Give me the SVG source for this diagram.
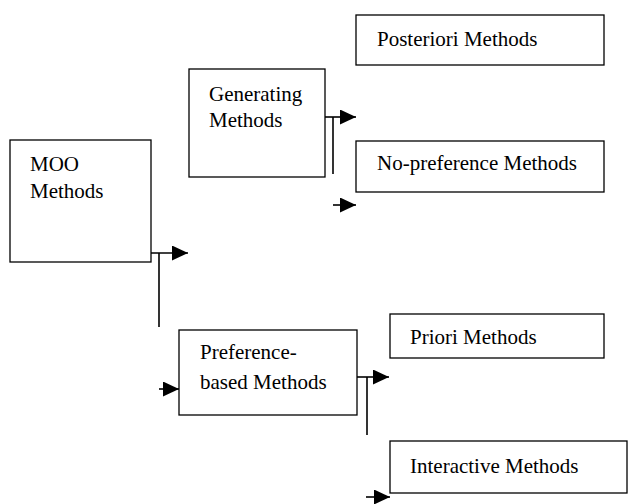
<svg xmlns="http://www.w3.org/2000/svg" width="628" height="504" viewBox="0 0 628 504">
<style>
.box{fill:#fff;stroke:#000;stroke-width:1.3}
.lbl{font-family:"Liberation Serif","Times New Roman",serif;font-size:21px;fill:#000}
.ln{stroke:#000;stroke-width:1.6;fill:none}
</style>
<defs>
<marker id="ah" markerUnits="userSpaceOnUse" markerWidth="16" markerHeight="15" refX="16" refY="7.5" orient="auto">
<path d="M0,0 L16,7.5 L0,15 z" fill="#000"/>
</marker>
</defs>
<rect width="628" height="504" fill="#fff"/>
<g id="moo"><rect class="box" x="10" y="140" width="141" height="122"/><text class="lbl" x="30" y="171">MOO</text><text class="lbl" x="30" y="198">Methods</text></g>
<g id="generating"><rect class="box" x="189" y="69" width="136" height="108"/><text class="lbl" x="209" y="101">Generating</text><text class="lbl" x="209" y="127">Methods</text></g>
<g id="posteriori"><rect class="box" x="356" y="15" width="248" height="50"/><text class="lbl" x="377" y="46">Posteriori Methods</text></g>
<g id="nopref"><rect class="box" x="356" y="141" width="248" height="51"/><text class="lbl" x="377" y="170">No-preference Methods</text></g>
<g id="preference"><rect class="box" x="179" y="330" width="178" height="85"/><text class="lbl" x="200" y="359">Preference-</text><text class="lbl" x="200" y="389">based Methods</text></g>
<g id="priori"><rect class="box" x="390" y="314" width="214" height="44"/><text class="lbl" x="410" y="344">Priori Methods</text></g>
<g id="interactive"><rect class="box" x="390" y="441" width="237" height="52"/><text class="lbl" x="410" y="473">Interactive Methods</text></g>
<g id="connectors">
<line class="ln" x1="151" y1="253" x2="188" y2="253" marker-end="url(#ah)"/>
<line class="ln" x1="159" y1="253" x2="159" y2="327"/>
<line class="ln" x1="159" y1="389" x2="179" y2="389" marker-end="url(#ah)"/>
<line class="ln" x1="325" y1="117" x2="356" y2="117" marker-end="url(#ah)"/>
<line class="ln" x1="333" y1="117" x2="333" y2="174"/>
<line class="ln" x1="333" y1="205" x2="356" y2="205" marker-end="url(#ah)"/>
<line class="ln" x1="357" y1="377" x2="389" y2="377" marker-end="url(#ah)"/>
<line class="ln" x1="367" y1="377" x2="367" y2="435"/>
<line class="ln" x1="366" y1="497" x2="390" y2="497" marker-end="url(#ah)"/>
</g>
</svg>
